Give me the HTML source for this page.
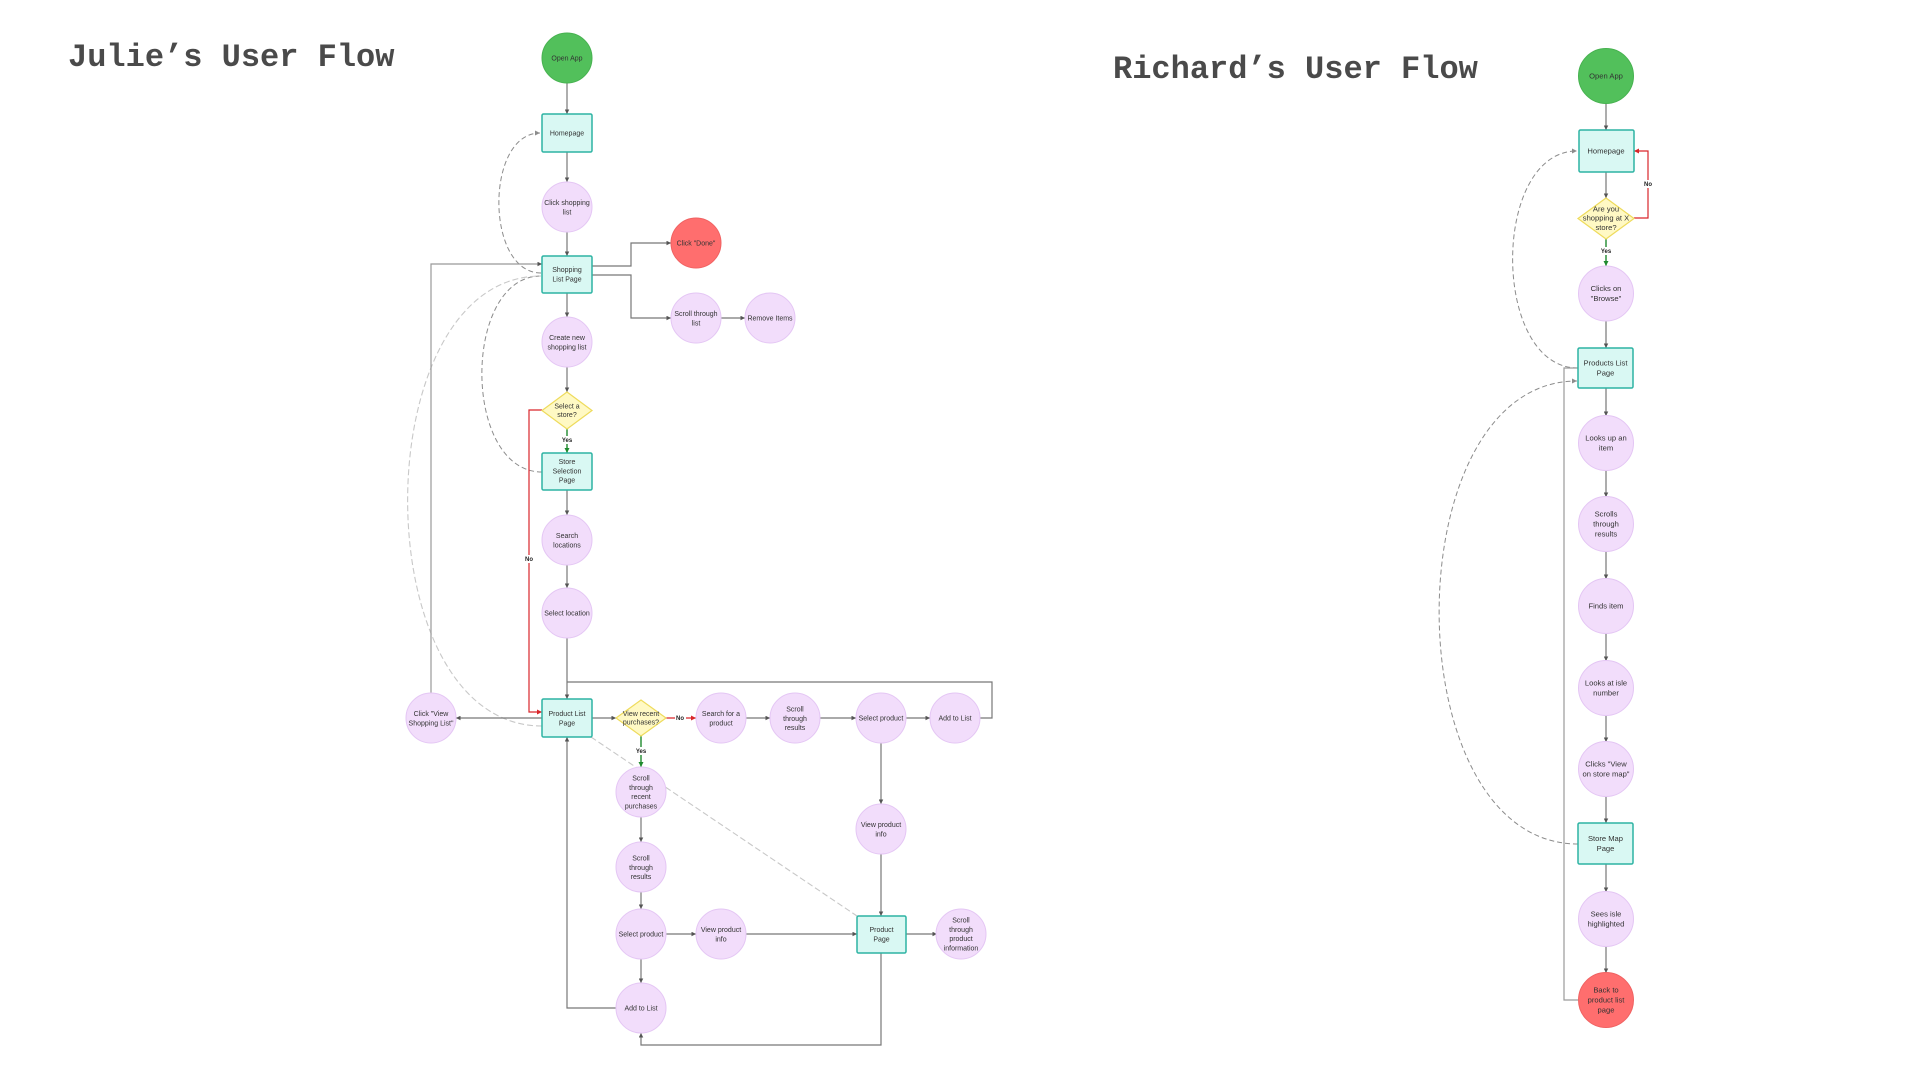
<!DOCTYPE html>
<html>
<head>
<meta charset="utf-8">
<style>
  html,body{margin:0;padding:0;background:#fff;}
  body{width:1920px;height:1080px;overflow:hidden;position:relative;}
  .title{position:absolute;font-family:"Liberation Mono",monospace;font-weight:bold;font-size:32px;color:#4a4a4a;white-space:nowrap;line-height:1;}
  svg{position:absolute;left:0;top:0;}
  .n{font-family:"Liberation Sans",sans-serif;font-size:7px;fill:#333;text-anchor:middle;}
  .r{font-family:"Liberation Sans",sans-serif;font-size:7.6px;fill:#333;text-anchor:middle;}
  .lbl{font-family:"Liberation Sans",sans-serif;font-size:6px;font-weight:bold;fill:#222;text-anchor:middle;}
  .ln{fill:none;stroke:#777;stroke-width:1.2;}
  .lnR{fill:none;stroke:#8a8a8a;stroke-width:1.4;}
  .red{fill:none;stroke:#d9262b;stroke-width:1.2;}
  .grn{fill:none;stroke:#1f8a2e;stroke-width:1.4;}
  .dash{fill:none;stroke:#8c8c8c;stroke-width:1;stroke-dasharray:5 3;}
  .dashL{fill:none;stroke:#c8c8c8;stroke-width:1.1;stroke-dasharray:6 3;}
  .pc{fill:#F2DDFB;stroke:#E4C6F4;stroke-width:1;}
  .gc{fill:#52C05B;stroke:#47b250;stroke-width:1;}
  .rc{fill:#FF6E6E;stroke:#f06262;stroke-width:1;}
  .bx{fill:#D9F8F3;stroke:#2DB3A3;stroke-width:1.5;}
  .dm{fill:#FFF9C4;stroke:#EEDB5C;stroke-width:1.2;}
</style>
</head>
<body>
<div class="title" style="left:68px;top:42px;">Julie’s User Flow</div>
<div class="title" style="left:1113px;top:54px;">Richard’s User Flow</div>

<svg width="1920" height="1080" viewBox="0 0 1920 1080" xmlns="http://www.w3.org/2000/svg">
<defs>
  <marker id="a" viewBox="0 0 10 10" refX="10" refY="5" markerWidth="4.5" markerHeight="4.5" orient="auto-start-reverse" markerUnits="userSpaceOnUse">
    <path d="M0,0 L10,5 L0,10 z" fill="#555"/>
  </marker>
  <marker id="ar" viewBox="0 0 10 10" refX="10" refY="5" markerWidth="5" markerHeight="5" orient="auto" markerUnits="userSpaceOnUse">
    <path d="M0,0 L10,5 L0,10 z" fill="#d9262b"/>
  </marker>
  <marker id="ag" viewBox="0 0 10 10" refX="10" refY="5" markerWidth="5" markerHeight="5" orient="auto" markerUnits="userSpaceOnUse">
    <path d="M0,0 L10,5 L0,10 z" fill="#1f8a2e"/>
  </marker>
  <marker id="ad" viewBox="0 0 10 10" refX="10" refY="5" markerWidth="5" markerHeight="5" orient="auto" markerUnits="userSpaceOnUse">
    <path d="M0,0 L10,5 L0,10 z" fill="#8c8c8c"/>
  </marker>
</defs>

<!-- ================= JULIE: dashed curves ================= -->
<path class="dash" d="M541,273 C485,273 485,133 540,133" marker-end="url(#ad)"/>
<path class="dash" d="M542,472 C462,472 462,276 541,276"/>
<path class="dashL" d="M542,726 C363,726 363,276 541,276"/>
<path class="dashL" d="M591,737 L857,916"/>

<!-- ================= JULIE: connectors ================= -->
<path class="ln" d="M567,83 L567,114" marker-end="url(#a)"/>
<path class="ln" d="M567,152 L567,182" marker-end="url(#a)"/>
<path class="ln" d="M567,232 L567,256" marker-end="url(#a)"/>
<path class="ln" d="M592,266 L631,266 L631,243 L671,243" marker-end="url(#a)"/>
<path class="ln" d="M592,275 L631,275 L631,318 L671,318" marker-end="url(#a)"/>
<path class="ln" d="M721,318 L745,318" marker-end="url(#a)"/>
<path class="ln" d="M567,293 L567,317" marker-end="url(#a)"/>
<path class="ln" d="M567,367 L567,392" marker-end="url(#a)"/>
<path class="grn" d="M567,429 L567,453" marker-end="url(#ag)"/>
<path class="red" d="M542,410 L529,410 L529,712 L542,712" marker-end="url(#ar)"/>
<path class="ln" d="M567,490 L567,515" marker-end="url(#a)"/>
<path class="ln" d="M567,565 L567,588" marker-end="url(#a)"/>
<path class="ln" d="M567,638 L567,699" marker-end="url(#a)"/>
<path class="ln" d="M980,718 L992,718 L992,682 L567,682"/>
<path class="ln" d="M542,718 L456,718" marker-end="url(#a)"/>
<path class="ln" style="stroke:#999" d="M431,693 L431,264 L542,264" marker-end="url(#a)"/>
<path class="ln" d="M592,718 L616,718" marker-end="url(#a)"/>
<path class="red" d="M665,718 L696,718" marker-end="url(#ar)"/>
<path class="ln" d="M746,718 L770,718" marker-end="url(#a)"/>
<path class="ln" d="M820,718 L856,718" marker-end="url(#a)"/>
<path class="ln" d="M906,718 L930,718" marker-end="url(#a)"/>
<path class="grn" d="M641,736 L641,767" marker-end="url(#ag)"/>
<path class="ln" d="M641,817 L641,842" marker-end="url(#a)"/>
<path class="ln" d="M641,892 L641,909" marker-end="url(#a)"/>
<path class="ln" d="M666,934 L696,934" marker-end="url(#a)"/>
<path class="ln" d="M746,934 L857,934" marker-end="url(#a)"/>
<path class="ln" d="M641,959 L641,983" marker-end="url(#a)"/>
<path class="ln" d="M616,1008 L567,1008 L567,737" marker-end="url(#a)"/>
<path class="ln" d="M881,743 L881,804" marker-end="url(#a)"/>
<path class="ln" d="M881,854 L881,916" marker-end="url(#a)"/>
<path class="ln" d="M906,934 L937,934" marker-end="url(#a)"/>
<path class="ln" d="M881,953 L881,1045 L641,1045 L641,1033" marker-end="url(#a)"/>

<!-- labels Yes/No -->
<rect x="560" y="436" width="14" height="8" fill="#fff"/>
<text class="lbl" x="567" y="442">Yes</text>
<rect x="524" y="555" width="10" height="8" fill="#fff"/>
<text class="lbl" x="529" y="561">No</text>
<rect x="675" y="714" width="11" height="8" fill="#fff"/>
<text class="lbl" x="680" y="720">No</text>
<rect x="634" y="747" width="14" height="8" fill="#fff"/>
<text class="lbl" x="641" y="753">Yes</text>

<!-- ================= JULIE: nodes ================= -->
<circle class="gc" cx="567" cy="58" r="25"/>
<text class="n" x="567" y="60.5">Open App</text>

<rect class="bx" x="542" y="114" width="50" height="38" rx="1.5"/>
<text class="n" x="567" y="135.5">Homepage</text>

<circle class="pc" cx="567" cy="207" r="25"/>
<text class="n" x="567" y="205"><tspan x="567">Click shopping</tspan><tspan x="567" dy="9.3">list</tspan></text>

<rect class="bx" x="542" y="256" width="50" height="37" rx="1.5"/>
<text class="n" x="567" y="272"><tspan x="567">Shopping</tspan><tspan x="567" dy="9.3">List Page</tspan></text>

<circle class="rc" cx="696" cy="243" r="25"/>
<text class="n" x="696" y="245.5">Click "Done"</text>

<circle class="pc" cx="696" cy="318" r="25"/>
<text class="n" x="696" y="316"><tspan x="696">Scroll through</tspan><tspan x="696" dy="9.3">list</tspan></text>

<circle class="pc" cx="770" cy="318" r="25"/>
<text class="n" x="770" y="320.5">Remove Items</text>

<circle class="pc" cx="567" cy="342" r="25"/>
<text class="n" x="567" y="340"><tspan x="567">Create new</tspan><tspan x="567" dy="9.3">shopping list</tspan></text>

<polygon class="dm" points="567,392 592,410.5 567,429 542,410.5"/>
<text class="n" x="567" y="408.5"><tspan x="567">Select a</tspan><tspan x="567" dy="8.5">store?</tspan></text>

<rect class="bx" x="542" y="453" width="50" height="37" rx="1.5"/>
<text class="n" x="567" y="464"><tspan x="567">Store</tspan><tspan x="567" dy="9.3">Selection</tspan><tspan x="567" dy="9.3">Page</tspan></text>

<circle class="pc" cx="567" cy="540" r="25"/>
<text class="n" x="567" y="538"><tspan x="567">Search</tspan><tspan x="567" dy="9.3">locations</tspan></text>

<circle class="pc" cx="567" cy="613" r="25"/>
<text class="n" x="567" y="615.5">Select location</text>

<rect class="bx" x="542" y="699" width="50" height="38" rx="1.5"/>
<text class="n" x="567" y="716"><tspan x="567">Product List</tspan><tspan x="567" dy="9.3">Page</tspan></text>

<circle class="pc" cx="431" cy="718" r="25"/>
<text class="n" x="431" y="716"><tspan x="431">Click "View</tspan><tspan x="431" dy="9.3">Shopping List"</tspan></text>

<polygon class="dm" points="641,700 666,718 641,736 616,718"/>
<text class="n" x="641" y="716"><tspan x="641">View recent</tspan><tspan x="641" dy="8.5">purchases?</tspan></text>

<circle class="pc" cx="721" cy="718" r="25"/>
<text class="n" x="721" y="716"><tspan x="721">Search for a</tspan><tspan x="721" dy="9.3">product</tspan></text>

<circle class="pc" cx="795" cy="718" r="25"/>
<text class="n" x="795" y="711.5"><tspan x="795">Scroll</tspan><tspan x="795" dy="9.3">through</tspan><tspan x="795" dy="9.3">results</tspan></text>

<circle class="pc" cx="881" cy="718" r="25"/>
<text class="n" x="881" y="720.5">Select product</text>

<circle class="pc" cx="955" cy="718" r="25"/>
<text class="n" x="955" y="720.5">Add  to List</text>

<circle class="pc" cx="641" cy="792" r="25"/>
<text class="n" x="641" y="780.5"><tspan x="641">Scroll</tspan><tspan x="641" dy="9.3">through</tspan><tspan x="641" dy="9.3">recent</tspan><tspan x="641" dy="9.3">purchases</tspan></text>

<circle class="pc" cx="641" cy="867" r="25"/>
<text class="n" x="641" y="860.5"><tspan x="641">Scroll</tspan><tspan x="641" dy="9.3">through</tspan><tspan x="641" dy="9.3">results</tspan></text>

<circle class="pc" cx="641" cy="934" r="25"/>
<text class="n" x="641" y="936.5">Select product</text>

<circle class="pc" cx="721" cy="934" r="25"/>
<text class="n" x="721" y="932"><tspan x="721">View product</tspan><tspan x="721" dy="9.3">info</tspan></text>

<circle class="pc" cx="641" cy="1008" r="25"/>
<text class="n" x="641" y="1010.5">Add  to List</text>

<circle class="pc" cx="881" cy="829" r="25"/>
<text class="n" x="881" y="827"><tspan x="881">View product</tspan><tspan x="881" dy="9.3">info</tspan></text>

<rect class="bx" x="857" y="916" width="49" height="37" rx="1.5"/>
<text class="n" x="881.5" y="932"><tspan x="881.5">Product</tspan><tspan x="881.5" dy="9.3">Page</tspan></text>

<circle class="pc" cx="961" cy="934" r="25"/>
<text class="n" x="961" y="922.5"><tspan x="961">Scroll</tspan><tspan x="961" dy="9.3">through</tspan><tspan x="961" dy="9.3">product</tspan><tspan x="961" dy="9.3">information</tspan></text>

<!-- ================= RICHARD: dashed curves ================= -->
<path class="dash" d="M1578,368 C1491,368 1491,151 1577,151" marker-end="url(#ad)"/>
<path class="dash" d="M1578,844 C1393,844 1393,381 1577,381" marker-end="url(#ad)"/>

<!-- ================= RICHARD: connectors ================= -->
<path class="lnR" d="M1606,103 L1606,130" marker-end="url(#a)"/>
<path class="lnR" d="M1606,172 L1606,198" marker-end="url(#a)"/>
<path class="red" d="M1634,218 L1648,218 L1648,151 L1634,151" marker-end="url(#ar)"/>
<path class="grn" d="M1606,239 L1606,266" marker-end="url(#ag)"/>
<path class="lnR" d="M1606,321 L1606,348" marker-end="url(#a)"/>
<path class="lnR" d="M1606,388 L1606,416" marker-end="url(#a)"/>
<path class="lnR" d="M1606,470 L1606,497" marker-end="url(#a)"/>
<path class="lnR" d="M1606,552 L1606,579" marker-end="url(#a)"/>
<path class="lnR" d="M1606,633 L1606,661" marker-end="url(#a)"/>
<path class="lnR" d="M1606,715 L1606,742" marker-end="url(#a)"/>
<path class="lnR" d="M1606,797 L1606,823" marker-end="url(#a)"/>
<path class="lnR" d="M1606,864 L1606,892" marker-end="url(#a)"/>
<path class="lnR" d="M1606,946 L1606,973" marker-end="url(#a)"/>
<path class="ln" style="stroke:#9a9a9a" d="M1578,1000 L1564,1000 L1564,368 L1578,368"/>

<rect x="1643" y="180" width="10" height="8" fill="#fff"/>
<text class="lbl" x="1648" y="186">No</text>
<rect x="1599" y="247" width="14" height="8" fill="#fff"/>
<text class="lbl" x="1606" y="253">Yes</text>

<!-- ================= RICHARD: nodes ================= -->
<circle class="gc" cx="1606" cy="76" r="27.5"/>
<text class="r" x="1606" y="78.7">Open App</text>

<rect class="bx" x="1579" y="130" width="55" height="42" rx="1.5"/>
<text class="r" x="1606" y="153.7">Homepage</text>

<polygon class="dm" points="1606,198 1634,218.5 1606,239 1578,218.5"/>
<text class="r" x="1606" y="211.5"><tspan x="1606">Are you</tspan><tspan x="1606" dy="9.2">shopping at X</tspan><tspan x="1606" dy="9.2">store?</tspan></text>

<circle class="pc" cx="1606" cy="293.5" r="27.5"/>
<text class="r" x="1606" y="291.2"><tspan x="1606">Clicks on</tspan><tspan x="1606" dy="10">"Browse"</tspan></text>

<rect class="bx" x="1578" y="348" width="55" height="40" rx="1.5"/>
<text class="r" x="1605.5" y="365.7"><tspan x="1605.5">Products List</tspan><tspan x="1605.5" dy="10">Page</tspan></text>

<circle class="pc" cx="1606" cy="443" r="27.5"/>
<text class="r" x="1606" y="440.7"><tspan x="1606">Looks up an</tspan><tspan x="1606" dy="10">item</tspan></text>

<circle class="pc" cx="1606" cy="524" r="27.5"/>
<text class="r" x="1606" y="516.7"><tspan x="1606">Scrolls</tspan><tspan x="1606" dy="10">through</tspan><tspan x="1606" dy="10">results</tspan></text>

<circle class="pc" cx="1606" cy="606" r="27.5"/>
<text class="r" x="1606" y="608.7">Finds item</text>

<circle class="pc" cx="1606" cy="688" r="27.5"/>
<text class="r" x="1606" y="685.7"><tspan x="1606">Looks at isle</tspan><tspan x="1606" dy="10">number</tspan></text>

<circle class="pc" cx="1606" cy="769" r="27.5"/>
<text class="r" x="1606" y="766.7"><tspan x="1606">Clicks "View</tspan><tspan x="1606" dy="10">on store map"</tspan></text>

<rect class="bx" x="1578" y="823" width="55" height="41" rx="1.5"/>
<text class="r" x="1605.5" y="841.2"><tspan x="1605.5">Store Map</tspan><tspan x="1605.5" dy="10">Page</tspan></text>

<circle class="pc" cx="1606" cy="919" r="27.5"/>
<text class="r" x="1606" y="916.7"><tspan x="1606">Sees isle</tspan><tspan x="1606" dy="10">highlighted</tspan></text>

<circle class="rc" cx="1606" cy="1000" r="27.5"/>
<text class="r" x="1606" y="992.7"><tspan x="1606">Back to</tspan><tspan x="1606" dy="10">product list</tspan><tspan x="1606" dy="10">page</tspan></text>
</svg>
</body>
</html>
